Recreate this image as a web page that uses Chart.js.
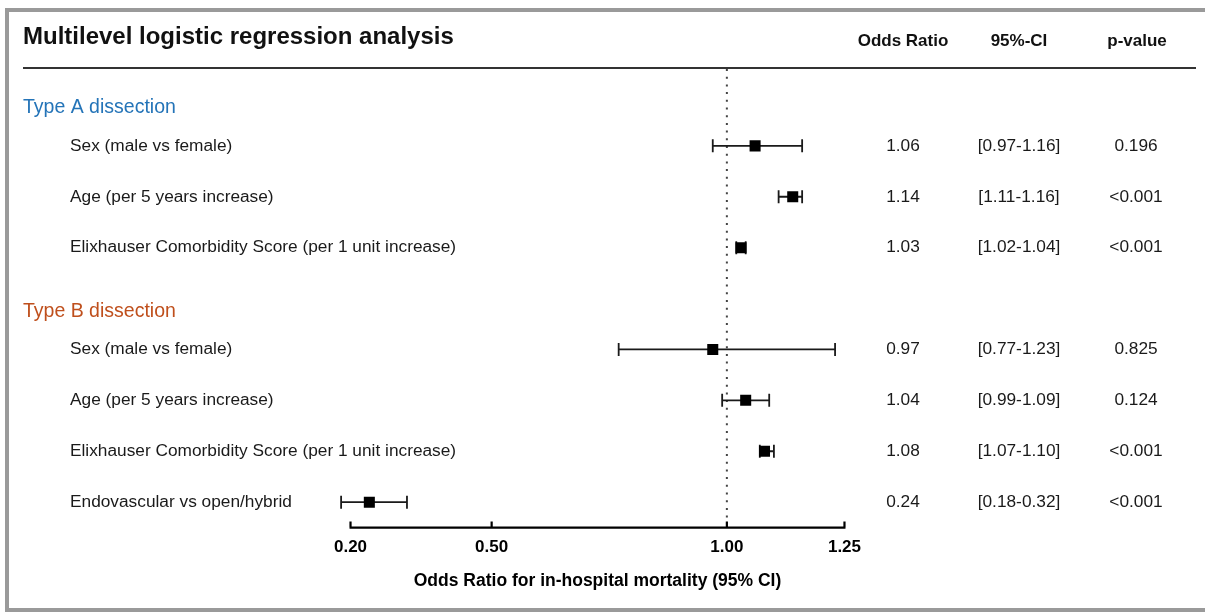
<!DOCTYPE html>
<html>
<head>
<meta charset="utf-8">
<title>Multilevel logistic regression analysis</title>
<script src="https://cdn.jsdelivr.net/npm/chart.js@4.4.1/dist/chart.umd.min.js"></script>
<style>
  html, body { margin: 0; padding: 0; background: #fff; overflow: hidden; }
  #frame {
    position: absolute; left: 5px; top: 8px;
    width: 1300px; height: 596px;
    border: 4px solid #9a9a9a; border-right: none;
  }
  #wrap { position: absolute; left: 0; top: 0; width: 1205px; height: 612px; }
</style>
</head>
<body>
<div id="frame"></div>
<div id="wrap"><canvas id="forest" width="1205" height="612"></canvas></div>
<script>
// data
const groups = ['Type A dissection', 'Type B dissection'];
const rowLabels = [
    'Sex (male vs female)',
    'Age (per 5 years increase)',
    'Elixhauser Comorbidity Score (per 1 unit increase)',
    'Sex (male vs female)',
    'Age (per 5 years increase)',
    'Elixhauser Comorbidity Score (per 1 unit increase)',
    'Endovascular vs open/hybrid'
];
const rowGroup = [0, 0, 0, 1, 1, 1, 1];
const oddsRatio = [1.06, 1.14, 1.03, 0.97, 1.04, 1.08, 0.24];
const ciLow = [0.97, 1.11, 1.02, 0.77, 0.99, 1.07, 0.18];
const ciHigh = [1.16, 1.16, 1.04, 1.23, 1.09, 1.10, 0.32];
const pValues = ['0.196', '<0.001', '<0.001', '0.825', '0.124', '<0.001', '<0.001'];
const tickValues = [0.20, 0.50, 1.00, 1.25];

const FONT = "'Liberation Sans', Arial, Helvetica, sans-serif";
const groupColors = ['#2474b8', '#bf4f1c'];

// one empty slot between groups, group header sits 0.75 slot above its first row
const rowSlot = rowLabels.map((_, i) => i + rowGroup[i]);
const groupSlot = groups.map((_, g) => rowSlot[rowGroup.indexOf(g)] - 0.75);

const fmtCI = (i) => `[${ciLow[i].toFixed(2)}-${ciHigh[i].toFixed(2)}]`;

const forestPlugin = {
    id: 'forest',
    beforeDatasetsDraw(chart) {
        const { ctx, chartArea, scales: { x, y } } = chart;
        ctx.save();

        // reference line at OR = 1
        ctx.strokeStyle = '#444';
        ctx.lineWidth = 2;
        ctx.setLineDash([2, 5.7]);
        ctx.beginPath();
        ctx.moveTo(x.getPixelForValue(1), chartArea.top + 1);
        ctx.lineTo(x.getPixelForValue(1), chartArea.bottom - 4);
        ctx.stroke();
        ctx.setLineDash([]);

        // confidence intervals
        ctx.strokeStyle = '#1a1a1a';
        ctx.lineWidth = 1.8;
        rowSlot.forEach((s, i) => {
            const py = y.getPixelForValue(s);
            const x0 = x.getPixelForValue(ciLow[i]);
            const x1 = x.getPixelForValue(ciHigh[i]);
            ctx.beginPath();
            ctx.moveTo(x0, py); ctx.lineTo(x1, py);
            ctx.moveTo(x0, py - 6.5); ctx.lineTo(x0, py + 6.5);
            ctx.moveTo(x1, py - 6.5); ctx.lineTo(x1, py + 6.5);
            ctx.stroke();
        });

        // x axis line between first and last tick
        const ay = chartArea.bottom;
        ctx.strokeStyle = '#000';
        ctx.lineWidth = 2.2;
        ctx.beginPath();
        ctx.moveTo(x.getPixelForValue(tickValues[0]) - 1, ay);
        ctx.lineTo(x.getPixelForValue(tickValues[tickValues.length - 1]) + 1, ay);
        tickValues.forEach(v => {
            const px = x.getPixelForValue(v);
            ctx.moveTo(px, ay);
            ctx.lineTo(px, ay - 6);
        });
        ctx.stroke();
        ctx.restore();
    },
    afterDraw(chart) {
        const { ctx, scales: { y } } = chart;
        ctx.save();
        ctx.textBaseline = 'middle';

        // title and column headers
        ctx.fillStyle = '#111';
        ctx.font = `bold 24px ${FONT}`;
        ctx.textAlign = 'left';
        ctx.fillText('Multilevel logistic regression analysis', 23, 37);
        ctx.font = `bold 17px ${FONT}`;
        ctx.textAlign = 'center';
        ctx.fillText('Odds Ratio', 903, 41);
        ctx.fillText('95%-CI', 1019, 41);
        ctx.fillText('p-value', 1137, 41);

        ctx.strokeStyle = '#333';
        ctx.lineWidth = 1.8;
        ctx.beginPath();
        ctx.moveTo(23, 68);
        ctx.lineTo(1196, 68);
        ctx.stroke();

        // group headers
        ctx.textAlign = 'left';
        ctx.font = `19.5px ${FONT}`;
        groups.forEach((g, gi) => {
            ctx.fillStyle = groupColors[gi];
            ctx.fillText(g, 23, y.getPixelForValue(groupSlot[gi]));
        });

        // rows: label, OR, CI, p
        ctx.fillStyle = '#1a1a1a';
        ctx.font = `17.3px ${FONT}`;
        rowSlot.forEach((s, i) => {
            const py = y.getPixelForValue(s);
            ctx.textAlign = 'left';
            ctx.fillText(rowLabels[i], 70, py);
            ctx.textAlign = 'center';
            ctx.fillText(oddsRatio[i].toFixed(2), 903, py);
            ctx.fillText(fmtCI(i), 1019, py);
            ctx.fillText(pValues[i], 1136, py);
        });
        ctx.restore();
    }
};

new Chart(document.getElementById('forest'), {
    type: 'scatter',
    data: {
        datasets: [{
            label: 'Odds Ratio',
            data: oddsRatio.map((v, i) => ({ x: v, y: rowSlot[i] })),
            pointStyle: 'rect',
            pointRadius: 7.8,
            pointHoverRadius: 7.8,
            backgroundColor: '#000',
            borderColor: '#000',
            borderWidth: 0
        }]
    },
    options: {
        responsive: false,
        animation: false,
        events: [],
        layout: { padding: { left: 327, right: 337, top: 68, bottom: 16 } },
        plugins: { legend: { display: false }, tooltip: { enabled: false } },
        scales: {
            x: {
                type: 'linear',
                min: 0.15,
                max: 1.3,
                grid: { display: false, drawTicks: false },
                border: { display: false },
                afterBuildTicks: (scale) => { scale.ticks = tickValues.map(v => ({ value: v })); },
                ticks: {
                    autoSkip: false,
                    maxRotation: 0,
                    padding: 10,
                    color: '#000',
                    font: { family: FONT, size: 17, weight: 'bold' },
                    callback: (v) => Number(v).toFixed(2)
                },
                title: {
                    display: true,
                    text: 'Odds Ratio for in-hospital mortality (95% CI)',
                    color: '#000',
                    font: { family: FONT, size: 17.5, weight: 'bold' },
                    padding: { top: 3, bottom: 4 }
                }
            },
            y: {
                type: 'linear',
                reverse: true,
                min: -1.53,
                max: 7.5,
                display: false
            }
        }
    },
    plugins: [forestPlugin]
});
</script>
</body>
</html>
